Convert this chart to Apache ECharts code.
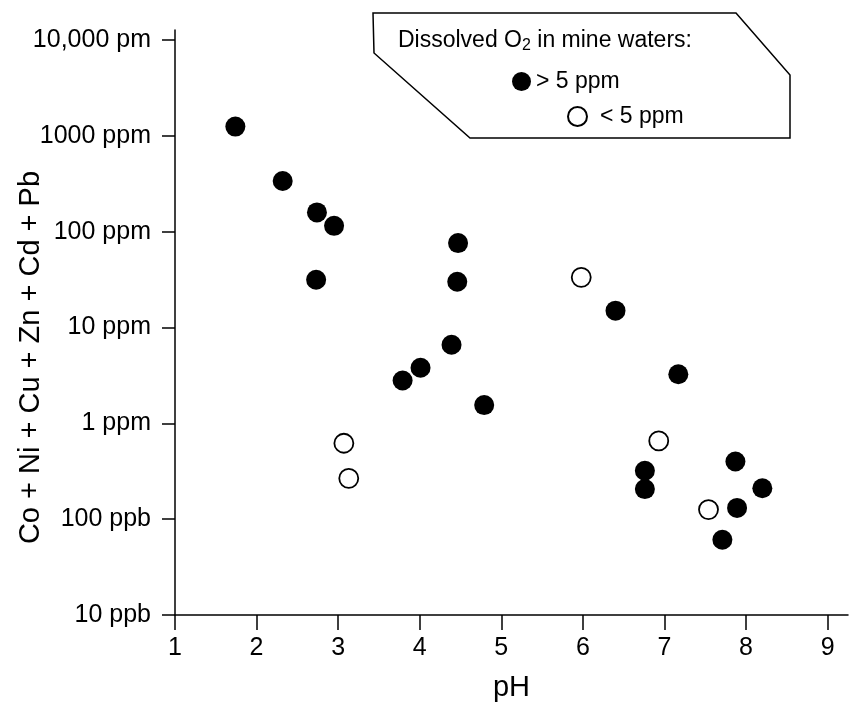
<!DOCTYPE html>
<html>
<head>
<meta charset="utf-8">
<script src="https://cdn.jsdelivr.net/npm/echarts@6/dist/echarts.min.js"></script>
<style>
  html, body { margin: 0; padding: 0; background: #fff; }
  #chart { width: 851px; height: 721px; }
</style>
</head>
<body>
<div id="chart"></div>
<script>
// pH vs. total dissolved metals (ppm)
var oxicPH   = [1.74, 2.32, 2.74, 2.95, 2.73, 4.47, 4.46, 4.39, 4.01, 3.79, 4.79, 6.40, 7.17, 6.76, 6.76, 7.87, 8.20, 7.89, 7.71];
var oxicPPM  = [1250, 338, 159, 115, 31.5, 76, 30, 6.6, 3.8, 2.8, 1.55, 15, 3.25, 0.32, 0.206, 0.40, 0.21, 0.131, 0.061];
var anoxPH   = [5.98, 6.93, 7.54, 3.07, 3.13];
var anoxPPM  = [33.4, 0.655, 0.126, 0.62, 0.267];

var xTicks = [1, 2, 3, 4, 5, 6, 7, 8, 9];
var yTickLabels = ['10 ppb', '100 ppb', '1 ppm', '10 ppm', '100 ppm', '1000 ppm', '10,000 pm'];
var seriesNames = ['> 5 ppm', '< 5 ppm'];

function pairs(xs, ys) {
    var out = [];
    for (var i = 0; i < xs.length; i++) out.push([xs[i], ys[i]]);
    return out;
}

var font = 'Liberation Sans, Arial, Helvetica, sans-serif';
var myChart = echarts.init(document.getElementById('chart'), null, {renderer: 'canvas'});

var option = {
    backgroundColor: '#fff',
    animation: false,
    grid: { left: 175, top: 30, width: 673, height: 585, containLabel: false, outerBoundsMode: 'none' },
    xAxis: {
        type: 'value',
        min: 1,
        max: 9.25,
        interval: 1,
        name: 'pH',
        nameLocation: 'middle',
        nameGap: 58,
        nameMoveOverlap: false,
        nameTextStyle: { fontFamily: font, fontSize: 29, color: '#000' },
        axisLine: { lineStyle: { color: '#000', width: 1.5 } },
        axisTick: { length: 15, lineStyle: { color: '#000', width: 1.5 }, customValues: xTicks },
        axisLabel: {
            fontFamily: font, fontSize: 25, color: '#000', margin: 21,
            customValues: xTicks
        },
        splitLine: { show: false }
    },
    yAxis: {
        type: 'log',
        logBase: 10,
        min: 0.01,
        max: 12720,
        interval: 1,
        name: 'Co + Ni + Cu + Zn + Cd + Pb',
        nameLocation: 'middle',
        nameGap: 130,
        nameMoveOverlap: false,
        nameTextStyle: { fontFamily: font, fontSize: 29, color: '#000', padding: [0, 70, 0, 0] },
        axisLine: { lineStyle: { color: '#000', width: 1.5 } },
        axisTick: { length: 13, lineStyle: { color: '#000', width: 1.5 } },
        axisLabel: {
            fontFamily: font, fontSize: 25, color: '#000', margin: 24,
            formatter: function (v) {
                var k = Math.round(Math.log10(v)) + 2;
                return yTickLabels[k] || '';
            }
        },
        splitLine: { show: false }
    },
    legend: [
        {
            data: [seriesNames[0]],
            left: 507, top: 65,
            itemWidth: 19, itemHeight: 19,
            textStyle: { fontFamily: font, fontSize: 23, color: '#000' }
        },
        {
            data: [seriesNames[1]],
            left: 562, top: 100,
            itemWidth: 19, itemHeight: 19,
            textStyle: { fontFamily: font, fontSize: 23, color: '#000', padding: [0, 0, 0, 8] }
        }
    ],
    graphic: [
        {
            type: 'polygon',
            shape: { points: [[373, 13], [736, 13], [790, 75], [790, 138], [470, 138], [374, 53]] },
            style: { fill: '#fff', stroke: '#000', lineWidth: 1.5 },
            z: 0
        },
        {
            type: 'text',
            left: 398, top: 29,
            style: {
                text: 'Dissolved O{sub|2} in mine waters:',
                font: '23px ' + font,
                fill: '#000',
                rich: { sub: { fontSize: 16, fontFamily: font, padding: [10, 0, 0, 0] } }
            },
            z: 1
        }
    ],
    series: [
        {
            name: seriesNames[0],
            type: 'scatter',
            symbol: 'circle',
            symbolSize: 20,
            itemStyle: { color: '#000', opacity: 1 },
            data: pairs(oxicPH, oxicPPM)
        },
        {
            name: seriesNames[1],
            type: 'scatter',
            symbol: 'circle',
            symbolSize: 19,
            itemStyle: { color: '#fff', borderColor: '#000', borderWidth: 1.8, opacity: 1 },
            data: pairs(anoxPH, anoxPPM)
        }
    ]
};
myChart.setOption(option);
</script>
</body>
</html>
